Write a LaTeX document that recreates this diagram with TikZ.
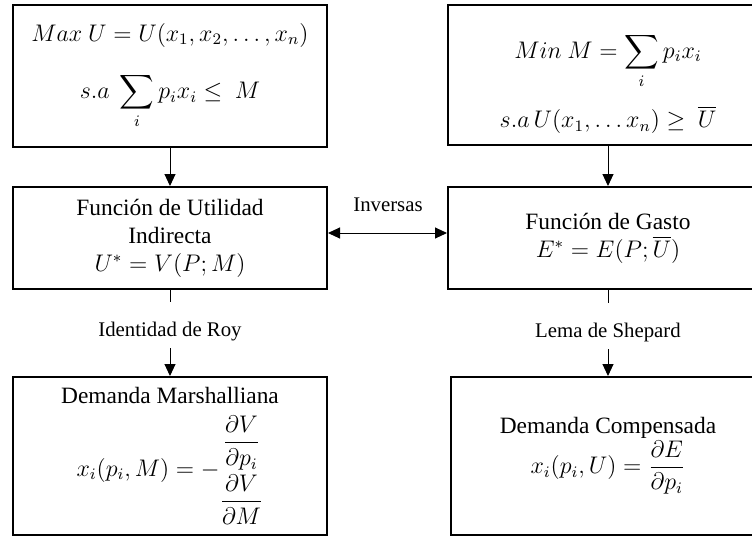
\documentclass[tikz,border=0pt]{standalone}
\usepackage{amsmath}
\usepackage{fontspec}
\setmainfont{Liberation Serif}
\usetikzlibrary{arrows.meta, positioning}

\begin{document}
\begin{tikzpicture}[
    x=0.5pt, y=-0.5pt,
    box/.style={
        rectangle,
        minimum width=157pt,
        draw=black,
        line width=1pt,
        align=center,
        inner sep=0pt,
        font=\fontsize{11.7}{14}\selectfont,
    },
    arrowline/.style={
        line width=0.5pt,
        -{Triangle[length=6pt, width=5.5pt]},
    },
    botharrow/.style={
        line width=0.5pt,
        {Triangle[length=6pt, width=5.5pt]}-{Triangle[length=6pt, width=5.5pt]},
    },
    rulelabel/.style={
        font=\fontsize{10.4}{12}\selectfont,
        inner xsep=2pt,
        inner ysep=0pt,
        text height=17pt,
        text depth=6pt,
    },
]

\useasboundingbox (0,0) rectangle (752,537);

% Problems
\node[box, minimum height=71pt] (maxu) at (170,76) {
    $Max\ U = U(x_1, x_2, \ldots, x_n)$\\[12pt]
    $s.a\ \displaystyle\sum_i p_i x_i \leq\ M$
};

\node[box, minimum width=160pt, minimum height=70pt] (minm) at (608,75) {
    \rule{0pt}{21pt}$Min\ M = \displaystyle\sum_i p_i x_i$\\[8pt]
    $s.a\, U(x_1, \ldots x_n) \geq\ \overline{U}$
};

% Functions
\node[box, minimum height=51pt] (vind) at (170,238) {
    Función de Utilidad\\
    Indirecta\\
    $U^* = V(P;M)$
};

\node[box, minimum width=160pt, minimum height=51pt] (gasto) at (608,238) {
    Función de Gasto\\
    $E^* = E(P;\overline{U})$
};

% Demands
\node[box, minimum height=79pt] (marsh) at (170,456) {
    Demanda Marshalliana\\[5pt]
    $x_i(p_i,M) = -\begin{array}{@{}c@{}}
        \dfrac{\partial V}{\partial p_i}\\ \noalign{\vskip 2.5pt}
        \dfrac{\partial V}{\partial M}
    \end{array}$
};

\node[box, minimum height=79pt] (comp) at (608,456) {
    Demanda Compensada\\
    $x_i(p_i,U) = \dfrac{\partial E}{\partial p_i}$
};

% Arrows from the problems
\draw[arrowline] (maxu) -- (vind);
\draw[arrowline] (minm) -- (gasto);

% Inverse relation
\draw[botharrow] ([yshift=2.5pt]vind.east) -- ([yshift=2.5pt]gasto.west);
\node[font=\fontsize{10.4}{12}\selectfont] (inv) at (388,205) {Inversas};

% Roy and Shepard
\node[rulelabel] (roy) at (170,325) {Identidad de Roy};
\draw[line width=0.5pt] (vind) -- (roy);
\draw[arrowline] (roy) -- (marsh);

\node[rulelabel] (shep) at (608,326) {Lema de Shepard};
\draw[line width=0.5pt] (gasto) -- (shep);
\draw[arrowline] (shep) -- (comp);

\end{tikzpicture}
\end{document}
